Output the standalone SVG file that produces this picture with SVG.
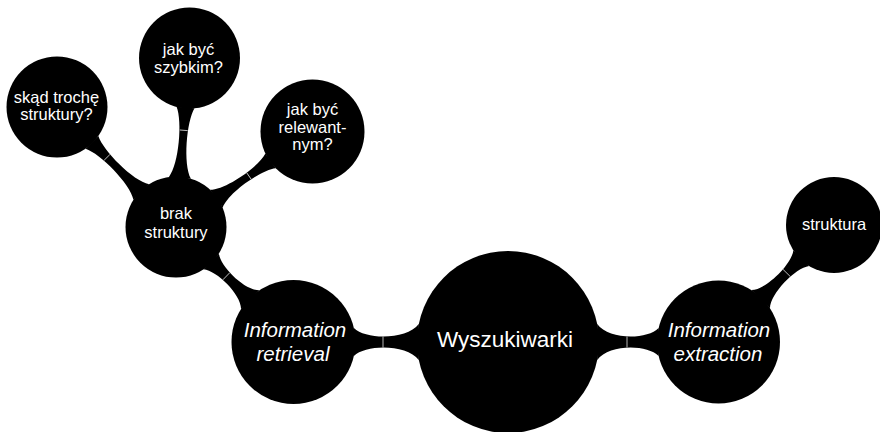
<svg xmlns="http://www.w3.org/2000/svg" width="880" height="432" viewBox="0 0 880 432">
<style>
.c{fill:#000}
.bar{fill:#000}
.tick{stroke:#c8c8c8;stroke-width:0.9}
text{font-family:"Liberation Sans",Arial,sans-serif;fill:#fff;text-anchor:middle}
.s{font-size:16.5px}
.i{font-size:20.5px;font-style:italic}
.r{font-size:22.5px}
</style>
<rect width="880" height="432" fill="#fff"/>
<g id="connectors">
  <g transform="translate(508 342) rotate(180)">
    <path class="bar" d="M 89.2,-18 C 101.2,-2 142.1,-2 154.1,-14 L 154.1,14 C 142.1,2 101.2,2 89.2,18 Z"/>
    <line class="tick" x1="125" y1="-5.5" x2="125" y2="5.5"/>
  </g>
  <g transform="translate(508 342)">
    <path class="bar" d="M 89.2,-18 C 100.7,-2 139.1,-2 150.6,-14 L 150.6,14 C 139.1,2 100.7,2 89.2,18 Z"/>
    <line class="tick" x1="119" y1="-5.5" x2="119" y2="5.5"/>
  </g>
  <g transform="translate(293.5 342) rotate(-135.62)">
    <path class="bar" d="M 60.6,-13 C 71,-2.7 104.7,-2.7 115.1,-11 L 115.1,11 C 104.7,2.7 71,2.7 60.6,13 Z"/>
    <line class="tick" x1="94" y1="-5" x2="94" y2="5"/>
  </g>
  <g transform="translate(718.5 342) rotate(-45.37)">
    <path class="bar" d="M 60.1,-13 C 71.1,-2.7 106.7,-2.7 117.7,-11 L 117.7,11 C 106.7,2.7 71.1,2.7 60.1,13 Z"/>
    <line class="tick" x1="97" y1="-5" x2="97" y2="5"/>
  </g>
  <g transform="translate(176 227) rotate(-134.76)">
    <path class="bar" d="M 49.3,-11 C 62.9,-2 105.7,-2 119.3,-9 L 119.3,9 C 105.7,2 62.9,2 49.3,11 Z"/>
    <line class="tick" x1="98" y1="-4" x2="98" y2="4"/>
  </g>
  <g transform="translate(176 227) rotate(-85.43)">
    <path class="bar" d="M 49.3,-11 C 63,-2 106.1,-2 119.8,-9 L 119.8,9 C 106.1,2 63,2 49.3,11 Z"/>
    <line class="tick" x1="97" y1="-4" x2="97" y2="4"/>
  </g>
  <g transform="translate(176 227) rotate(-34.97)">
    <path class="bar" d="M 49.3,-11 C 62.1,-2 102.6,-2 115.4,-9 L 115.4,9 C 102.6,2 62.1,2 49.3,11 Z"/>
    <line class="tick" x1="89" y1="-4" x2="89" y2="4"/>
  </g>
</g>
<g id="wyszukiwarki">
  <circle class="c" cx="508" cy="342" r="91"/>
  <text class="r" x="505" y="347">Wyszukiwarki</text>
</g>
<g id="information-retrieval">
  <circle class="c" cx="293.5" cy="342" r="62"/>
  <text class="i" x="295" y="337">Information</text>
  <text class="i" x="293" y="361">retrieval</text>
</g>
<g id="information-extraction">
  <circle class="c" cx="718.5" cy="342" r="61.5"/>
  <text class="i" x="719" y="337">Information</text>
  <text class="i" x="718" y="361">extraction</text>
</g>
<g id="struktura">
  <circle class="c" cx="834" cy="225" r="48"/>
  <text class="s" x="834" y="230">struktura</text>
</g>
<g id="brak-struktury">
  <circle class="c" cx="176" cy="227" r="50.5"/>
  <text class="s" x="176" y="219">brak</text>
  <text class="s" x="176" y="238">struktury</text>
</g>
<g id="skad-troche-struktury">
  <circle class="c" cx="57" cy="107" r="50.5"/>
  <text class="s" x="56.5" y="102.5">skąd trochę</text>
  <text class="s" x="56.5" y="119.5">struktury?</text>
</g>
<g id="jak-byc-szybkim">
  <circle class="c" cx="189.5" cy="58" r="50.5"/>
  <text class="s" x="188.5" y="55">jak być</text>
  <text class="s" x="188.5" y="72.5">szybkim?</text>
</g>
<g id="jak-byc-relewantnym">
  <circle class="c" cx="312.5" cy="131.5" r="52"/>
  <text class="s" x="312.5" y="115">jak być</text>
  <text class="s" x="312.5" y="132.5">relewant-</text>
  <text class="s" x="312.5" y="150">nym?</text>
</g>
</svg>
